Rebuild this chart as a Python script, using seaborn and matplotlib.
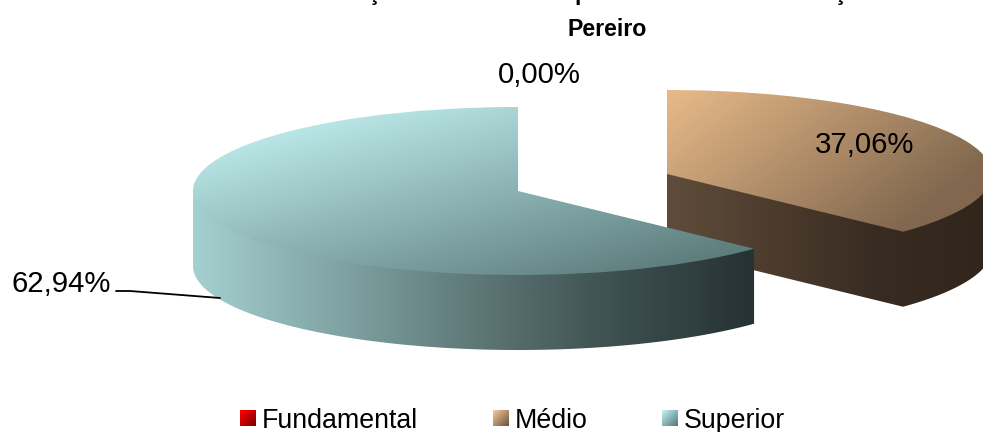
import numpy as np
import matplotlib
matplotlib.use("Agg")
import matplotlib.pyplot as plt
from matplotlib.path import Path
from matplotlib.transforms import Affine2D
from matplotlib.colors import LinearSegmentedColormap as LSC
from matplotlib.patches import Patch
import seaborn as sns

categories = ["Fundamental", "Médio", "Superior"]
shares = [0.00, 37.06, 62.94]
title_line = "Pereiro"
title_cut_glyphs = ["ç", "p", "ç"]

sns.set_theme(style="white")
plt.rcParams["font.family"] = ["Liberation Sans", "DejaVu Sans"]

W, H = 983, 432
RX, RY, DEPTH = 325, 84, 75
centers = {"Fundamental": (667, 174), "Médio": (667, 174), "Superior": (518, 191)}


def rgb(*cs):
    return [tuple(v / 255 for v in c) for c in cs]


top_cmaps = {
    "Médio": LSC.from_list("mt", rgb((232, 186, 137), (128, 103, 78))),
    "Superior": LSC.from_list("st", rgb((185, 230, 230), (85, 115, 115))),
}
wall_cmaps = {
    "Médio": LSC.from_list("mw", rgb((96, 76, 58), (76, 60, 46), (56, 43, 33), (50, 38, 28))),
    "Superior": LSC.from_list("sw", rgb((165, 208, 208), (130, 165, 165), (95, 120, 120), (62, 80, 80), (38, 50, 52))),
}
# gradient: origin and per-pixel slope along x and y
top_grad = {
    "Médio": (667, 90, 0.00242, 0.00304),
    "Superior": (250, 140, 0.0010, 0.0038),
}
swatch_cmaps = {
    "Fundamental": LSC.from_list("fs", rgb((255, 0, 0), (125, 0, 0))),
    "Médio": LSC.from_list("ms", rgb((245, 200, 150), (110, 85, 65))),
    "Superior": LSC.from_list("ss", rgb((195, 240, 240), (90, 120, 120))),
}

fig = plt.figure(figsize=(W / 100, H / 100), dpi=100)
ax = fig.add_axes([0, 0, 1, 1])

wedges, _ = ax.pie(shares, startangle=90, counterclock=False, radius=1,
                   wedgeprops={"linewidth": 0})
ax.set_aspect("auto")


def gradient_fill(path, cm, tfun, z):
    bb = path.get_extents()
    xs = np.arange(np.floor(bb.x0), np.ceil(bb.x1) + 1)
    ys = np.arange(np.floor(bb.y0), np.ceil(bb.y1) + 1)
    gx, gy = np.meshgrid(xs, ys)
    im = ax.imshow(np.clip(tfun(gx, gy), 0, 1), cmap=cm, vmin=0, vmax=1, aspect="auto",
                   extent=[xs[0], xs[-1], ys[-1], ys[0]], interpolation="bilinear", zorder=z)
    im.set_clip_path(path, transform=ax.transData)
    return im


z = 2
for name, wedge in zip(categories, wedges):
    if wedge.theta1 == wedge.theta2:
        wedge.set_visible(False)
        continue
    cx, cy = centers[name]
    to_px = Affine2D().scale(RX, -RY).translate(cx, cy)
    top_path = wedge.get_path().transformed(wedge.get_patch_transform() + to_px)

    # visible wall: rim on the near half, plus a radial face when it looks at the viewer
    lo, hi = max(wedge.theta1, -180), min(wedge.theta2, 0)
    th = np.radians(np.linspace(lo, hi, 200))
    rim = np.c_[cx + RX * np.cos(th), cy - RY * np.sin(th)]
    if -90 < wedge.theta1 < 0:
        rim = np.r_[[(cx, cy)], rim]
    # the upper edge runs just under the top face, so that no gap opens between them
    upper = rim - np.array([0, 1.5])
    lower = rim + np.array([0, DEPTH])
    wall_pts = np.r_[upper, lower[::-1], upper[:1]]
    wall_path = Path(wall_pts, closed=True)

    span = rim[:, 0].max() - rim[:, 0].min()
    x_lo = rim[:, 0].min()
    if name == "Médio":
        span = 316
    gradient_fill(wall_path, wall_cmaps[name],
                  lambda gx, gy, a=x_lo, s=span: (gx - a) / s, z + 0.5)
    z += 1

    wedge.set_transform(to_px + ax.transData)
    wedge.set_facecolor("none")
    wedge.set_zorder(z)
    x0, y0, a, b = top_grad[name]
    gradient_fill(top_path, top_cmaps[name],
                  lambda gx, gy: a * (gx - x0) + b * (gy - y0), z + 0.5)
    z += 1

ax.set_xlim(0, W)
ax.set_ylim(H, 0)
ax.axis("off")

# title
ax.text(607, 36, title_line, fontsize=16.7, fontweight="bold", ha="center", va="baseline",
        color="black", zorder=20)
for gx, glyph in zip([373, 582, 840], title_cut_glyphs):
    ax.text(gx, 0, glyph, fontsize=16.7, fontweight="bold", ha="center", va="baseline",
            color="black", zorder=20)

# value labels
label_pos = [(539, 75), (865, 145), (61, 284)]
for v, (lx, ly) in zip(shares, label_pos):
    ax.text(lx, ly, f"{v:.2f}%".replace(".", ","), fontsize=21.2, ha="center", va="center",
            color="black", zorder=20)
ax.plot([116, 130, 220], [291, 291, 298], color="black", lw=1.3, zorder=20)

# legend
handles = [Patch(facecolor=swatch_cmaps[c](0.5), linewidth=0, label=c) for c in categories]
leg = ax.legend(handles=handles, ncol=3, frameon=False, fontsize=19.3, loc="center",
                labelcolor="black",
                bbox_to_anchor=(512.5 / W, 1 - 421 / H), handlelength=0.56, handleheight=0.5,
                handletextpad=0.26, columnspacing=2.78, borderpad=0, borderaxespad=0)
fig.canvas.draw()
inv = ax.transData.inverted()
for c, h in zip(categories, leg.legend_handles):
    e = h.get_window_extent()
    (x0, y0), (x1, y1) = inv.transform([(e.x0, e.y0), (e.x1, e.y1)])
    u, v = np.meshgrid(np.linspace(0, 1, 16), np.linspace(0, 1, 16))
    ax.imshow((u + v) / 2, cmap=swatch_cmaps[c], vmin=0, vmax=1, aspect="auto",
              extent=[x0, x1, y0, y1], interpolation="bilinear", zorder=30)
ax.set_xlim(0, W)
ax.set_ylim(H, 0)

fig.savefig("out.png", dpi=100)
